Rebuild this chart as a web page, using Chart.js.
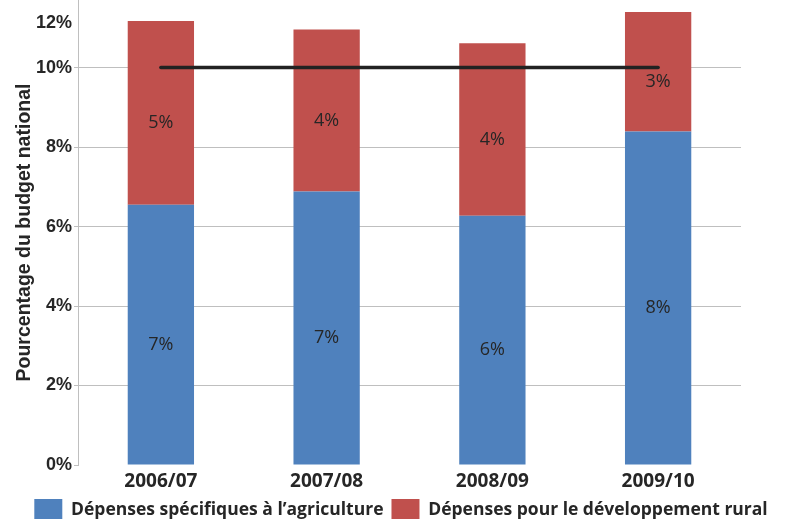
<!DOCTYPE html>
<html>
<head>
<meta charset="utf-8">
<script src="https://cdn.jsdelivr.net/npm/chart.js@4/dist/chart.umd.min.js"></script>
<style>
  html, body { margin: 0; padding: 0; background: #fff; }
  #wrap { width: 787px; height: 519px; position: relative; }
</style>
</head>
<body>
<div id="wrap"><canvas id="budgetChart"></canvas></div>
<script>
// Data
const years = ['2006/07', '2007/08', '2008/09', '2009/10'];
const agriculture = [6.55, 6.88, 6.27, 8.39];
const ruralDev = [4.62, 4.08, 4.34, 3.01];
const target = [10, 10, 10, 10];
const yTicks = [0, 2, 4, 6, 8, 10, 12];
const seriesNames = ['Dépenses spécifiques à l’agriculture', 'Dépenses pour le développement rural'];

// the top of the source image is cropped, so the "12%" label sits below its real place
const Y_MAX = 11.7;
const TOP_LABEL_AT = 11.13;

const textColor = '#262626';
const gridColor = '#bfbfbf';

// Value labels in each bar segment
const segmentLabels = {
    id: 'segmentLabels',
    afterDatasetsDraw(chart) {
        const ctx = chart.ctx;
        ctx.save();
        ctx.font = '18px "Open Sans"';
        ctx.fillStyle = textColor;
        ctx.textAlign = 'center';
        ctx.textBaseline = 'middle';
        [0, 1].forEach(di => {
            const meta = chart.getDatasetMeta(di);
            meta.data.forEach((bar, i) => {
                const v = chart.data.datasets[di].data[i];
                ctx.fillText(Math.round(v) + '%', bar.x, (bar.y + bar.base) / 2 + 10);
            });
        });
        ctx.restore();
    }
};

const ctx = document.getElementById('budgetChart').getContext('2d');
const chart = new Chart(ctx, {
    data: {
        labels: years,
        datasets: [{
            type: 'bar',
            label: seriesNames[0],
            data: agriculture,
            backgroundColor: '#4f81bd',
            borderWidth: 0,
            stack: 'spend',
            order: 1,
            barPercentage: 0.4,
            categoryPercentage: 1
        }, {
            type: 'bar',
            label: seriesNames[1],
            data: ruralDev,
            backgroundColor: '#c0504d',
            borderWidth: 0,
            stack: 'spend',
            order: 1,
            barPercentage: 0.4,
            categoryPercentage: 1
        }, {
            type: 'line',
            label: 'Objectif',
            data: target,
            borderColor: '#222222',
            borderWidth: 3.5,
            borderCapStyle: 'round',
            pointRadius: 0,
            fill: false,
            stack: 'target',
            order: 0
        }]
    },
    options: {
        responsive: true,
        maintainAspectRatio: false,
        animation: false,
        events: [],
        layout: { padding: { top: 0, right: 0, bottom: -12, left: 15 } },
        plugins: {
            tooltip: { enabled: false },
            legend: {
                position: 'bottom',
                labels: {
                    filter: item => item.datasetIndex < 2,
                    boxWidth: 28,
                    boxHeight: 22,
                    padding: 8,
                    color: textColor,
                    font: { family: '"Open Sans"', size: 17.5, weight: 'bold' }
                }
            }
        },
        scales: {
            x: {
                stacked: true,
                grid: { display: false, drawTicks: false },
                border: { display: false },
                ticks: {
                    color: textColor,
                    padding: 5,
                    font: { family: '"Open Sans"', size: 19, weight: 'bold' }
                },
                afterFit(scale) { scale.height = 26; }
            },
            y: {
                stacked: true,
                min: 0,
                max: Y_MAX,
                afterBuildTicks(scale) {
                    scale.ticks = yTicks.map(v => ({ value: v > 10 ? TOP_LABEL_AT : v }));
                },
                afterFit(scale) {
                    scale.width = 63;
                    scale.paddingTop = 0;
                    scale.paddingBottom = 0;
                },
                grid: {
                    color: c => (c.tick && (c.tick.value === 0 || c.tick.value > 10)) ? 'rgba(0,0,0,0)' : gridColor,
                    tickColor: c => (c.tick && c.tick.value > 10) ? 'rgba(0,0,0,0)' : gridColor,
                    tickLength: 4,
                    lineWidth: 1
                },
                border: { color: gridColor, width: 1 },
                ticks: {
                    color: textColor,
                    padding: 2,
                    font: { family: '"Liberation Sans"', size: 18, weight: 'bold' },
                    callback: v => (v > 10 ? 12 : v) + '%'
                },
                title: {
                    display: true,
                    text: 'Pourcentage du budget national',
                    color: textColor,
                    padding: { top: 0, bottom: 0 },
                    font: { family: '"Liberation Sans"', size: 19.5, weight: 'bold', lineHeight: 1 }
                }
            },
            // empty right-hand margin
            yRight: {
                position: 'right',
                grid: { display: false, drawTicks: false },
                border: { display: false },
                ticks: { display: false },
                afterFit(scale) { scale.width = 46; }
            }
        }
    },
    plugins: [segmentLabels]
});
</script>
</body>
</html>
